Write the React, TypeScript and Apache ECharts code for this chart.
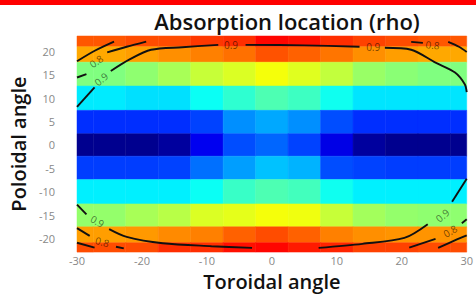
import { useEffect, useRef } from "react";
import * as echarts from "echarts";

// ---- grid of cells (toroidal x poloidal) ----
const xCenters = [-30, -25, -20, -15, -10, -5, 0, 5, 10, 15, 20, 25, 30];
const yRowEdges = [23.3, 21.0, 17.7, 12.6, 7.4, 2.4, -2.4, -7.4, -12.6, -17.5, -20.9, -22.9];

// cell values on a 0..1 jet colour scale, one array per row, top to bottom
const rowTop = [0.79, 0.79, 0.8, 0.8, 0.82, 0.83, 0.87, 0.86, 0.83, 0.81, 0.8, 0.79, 0.79];
const row19 = [0.71, 0.71, 0.72, 0.735, 0.75, 0.765, 0.795, 0.78, 0.76, 0.735, 0.72, 0.71, 0.71];
const row15 = [0.5, 0.5, 0.515, 0.54, 0.57, 0.59, 0.615, 0.595, 0.565, 0.525, 0.51, 0.5, 0.5];
const row10 = [0.355, 0.355, 0.345, 0.345, 0.385, 0.42, 0.45, 0.435, 0.39, 0.35, 0.35, 0.35, 0.35];
const row5 = [0.17, 0.17, 0.17, 0.17, 0.19, 0.265, 0.29, 0.265, 0.2, 0.17, 0.17, 0.17, 0.17];
const row0 = [0.015, 0.015, 0.015, 0.03, 0.11, 0.2, 0.225, 0.19, 0.1, 0.03, 0.015, 0.015, 0.015];
const rowM5 = [0.185, 0.185, 0.185, 0.19, 0.235, 0.28, 0.315, 0.3, 0.2, 0.19, 0.185, 0.185, 0.185];
const rowM10 = [0.36, 0.36, 0.36, 0.36, 0.385, 0.43, 0.45, 0.44, 0.39, 0.36, 0.36, 0.36, 0.36];
const rowM15 = [0.52, 0.52, 0.54, 0.555, 0.59, 0.6, 0.615, 0.61, 0.57, 0.535, 0.52, 0.515, 0.515];
const rowM19 = [0.72, 0.72, 0.725, 0.74, 0.75, 0.78, 0.8, 0.78, 0.75, 0.735, 0.73, 0.73, 0.73];
const rowBottom = [0.8, 0.8, 0.8, 0.83, 0.83, 0.86, 0.87, 0.85, 0.84, 0.81, 0.81, 0.8, 0.8];
const rows = [rowTop, row19, row15, row10, row5, row0, rowM5, rowM10, rowM15, rowM19, rowBottom];

// ---- contour lines (data coordinates) ----
const c07TopLeft = [[-30, 17.91], [-27.2, 20.2], [-24.3, 22.1]];
const c08TopLeftA = [[-30, 14.43], [-28.55, 15.13]];
const c08TopLeftB = [[-25.35, 19.8], [-22.35, 21.0], [-19.35, 22.1]];
const c09Left = [[-30, 8.15], [-27.3, 12.34]];
const c09TopA = [[-24.8, 15.82], [-21.9, 18.3], [-18.6, 20.36], [-13.8, 20.9], [-8.25, 21.41]];
const c09TopB = [[-4.05, 21.41], [5, 21.3], [13.5, 20.99]];
const c09TopC = [[17.4, 20.78], [21.45, 20.36], [25.2, 17.6], [28.2, 15.5], [29.7, 13.0], [30, 11.3]];
const c08TopRightA = [[21.45, 22.04], [23.25, 21.83]];
const c08TopRightB = [[27.15, 22.04], [28.8, 21.0], [30, 19.9]];
const c09RightLow = [[30, -7.23], [27.75, -12.13]];
const c09BottomRight = [[24.0, -16.93], [20.4, -19.87], [13.95, -21.13], [7.2, -22.0]];
const c09BottomLeftA = [[-30, -12.74], [-28.55, -14.84]];
const c09BottomLeftB = [[-25.05, -17.98], [-22.35, -19.65], [-16.8, -21.01], [-9.3, -21.64], [-3.05, -22.0]];
const c08BottomLeftA = [[-30, -17.77], [-28.05, -19.44]];
const c08BottomLeftB = [[-24.0, -21.75], [-22.8, -22.1]];
const c07BottomLeft = [[-30, -20.9], [-27.3, -21.96]];
const c08BottomRightA = [[21.15, -21.96], [25.2, -20.07]];
const c08BottomRightB = [[29.25, -16.72], [30, -15.9]];
const c07BottomRight = [[25.6, -22.0], [28.5, -20.2], [30, -19.3]];
const contourSegments = [
  c07TopLeft, c08TopLeftA, c08TopLeftB, c09Left, c09TopA, c09TopB, c09TopC,
  c08TopRightA, c08TopRightB, c09RightLow, c09BottomRight, c09BottomLeftA,
  c09BottomLeftB, c08BottomLeftA, c08BottomLeftB, c07BottomLeft,
  c08BottomRightA, c08BottomRightB, c07BottomRight,
];

// contour labels
const contourLabelText = ["0.8", "0.9", "0.9", "0.9", "0.8", "0.9", "0.8", "0.9", "0.8"];
const contourLabelX = [-27.05, -26.3, -6.3, 15.6, 24.75, 26.25, 27.45, -26.85, -26.1];
const contourLabelY = [17.91, 14.08, 21.41, 20.99, 21.41, -15.04, -18.4, -16.3, -20.7];
const contourLabelAngle = [35, 40, 0, 0, -5, 40, 30, -30, -15];

const xTickInterval = 10;
const yTickLabels = [-20, -15, -10, -5, 0, 5, 10, 15, 20];

function clamp01(v: number) {
  return Math.max(0, Math.min(1, v));
}
function jet(t: number) {
  const r = clamp01(1.5 - Math.abs(4 * t - 3));
  const g = clamp01(1.5 - Math.abs(4 * t - 2));
  const b = clamp01(1.5 - Math.abs(4 * t - 1));
  return `rgb(${Math.round(r * 255)},${Math.round(g * 255)},${Math.round(b * 255)})`;
}

const FONT = '"Open Sans", "Noto Sans", sans-serif';

export default function App() {
  const ref = useRef<HTMLDivElement>(null);
  useEffect(() => {
    if (!ref.current) return;
    const chart = echarts.init(ref.current, null, { renderer: "svg" });
    const xMin = xCenters[0];
    const xMax = xCenters[xCenters.length - 1];
    const cells: number[][] = [];
    rows.forEach((row, i) => {
      const yHi = yRowEdges[i];
      const yLo = yRowEdges[i + 1];
      row.forEach((v, j) => {
        const xc = xCenters[j];
        const xLo = Math.max(xMin, xc - 2.5);
        const xHi = Math.min(xMax, xc + 2.5);
        cells.push([xLo, xHi, yLo, yHi, v]);
      });
    });

    const lineSeries = contourSegments.map((seg) => ({
      type: "line",
      data: seg,
      symbol: "none",
      smooth: 0.3,
      silent: true,
      z: 3,
      lineStyle: { color: "#111", width: 1.9 },
    }));

    const labelData = contourLabelText.map((t, i) => ({
      name: t,
      value: [contourLabelX[i], contourLabelY[i]],
      label: { rotate: contourLabelAngle[i] },
    }));

    chart.setOption({
      animation: false,
      backgroundColor: "#fff",
      textStyle: { fontFamily: FONT },
      title: {
        text: "Absorption location (rho)",
        left: 287,
        top: 10,
        padding: 0,
        textAlign: "center",
        textStyle: { fontFamily: FONT, fontSize: 22, fontWeight: 600, color: "#111" },
      },
      graphic: [
        { type: "rect", shape: { x: 0, y: 0, width: 476, height: 5 }, style: { fill: "#ff0000" }, z: 10 },
      ],
      grid: { left: 72, right: 4, top: 36, bottom: 39, containLabel: false },
      xAxis: {
        type: "value",
        min: xMin,
        max: xMax,
        interval: xTickInterval,
        name: "Toroidal angle",
        nameLocation: "middle",
        nameGap: 14,
        nameTextStyle: { fontFamily: FONT, fontSize: 20, fontWeight: 600, color: "#111" },
        axisLine: { show: false },
        axisTick: { show: false },
        splitLine: { show: false },
        axisLabel: { fontFamily: FONT, fontSize: 11, color: "#888", margin: 3 },
      },
      yAxis: {
        type: "value",
        min: yRowEdges[yRowEdges.length - 1],
        max: yRowEdges[0],
        name: "Poloidal angle",
        nameLocation: "middle",
        nameGap: 38,
        nameTextStyle: { fontFamily: FONT, fontSize: 20, fontWeight: 600, color: "#111" },
        axisLine: { show: false },
        axisTick: { show: false },
        splitLine: { show: false },
        axisLabel: {
          fontFamily: FONT,
          fontSize: 11,
          color: "#888",
          margin: 22,
          customValues: yTickLabels,
        },
      },
      series: [
        {
          type: "custom",
          data: cells,
          encode: { x: [0, 1], y: [2, 3] },
          silent: true,
          z: 1,
          renderItem: (params: any, api: any) => {
            const p0 = api.coord([api.value(0), api.value(3)]);
            const p1 = api.coord([api.value(1), api.value(2)]);
            const c = jet(api.value(4));
            return {
              type: "rect",
              shape: { x: p0[0], y: p0[1], width: p1[0] - p0[0], height: p1[1] - p0[1] },
              style: { fill: c, stroke: c, lineWidth: 0.5 },
            };
          },
        },
        ...lineSeries,
        {
          type: "scatter",
          data: labelData,
          symbolSize: 0,
          silent: true,
          z: 4,
          label: {
            show: true,
            position: "inside",
            formatter: "{b}",
            fontFamily: FONT,
            fontSize: 10,
            color: "rgba(0,0,0,0.7)",
          },
        },
      ],
    });
    return () => chart.dispose();
  }, []);
  return (
    <div
      ref={ref}
      style={{ position: "fixed", left: 0, top: 0, width: 476, height: 296 }}
    />
  );
}
